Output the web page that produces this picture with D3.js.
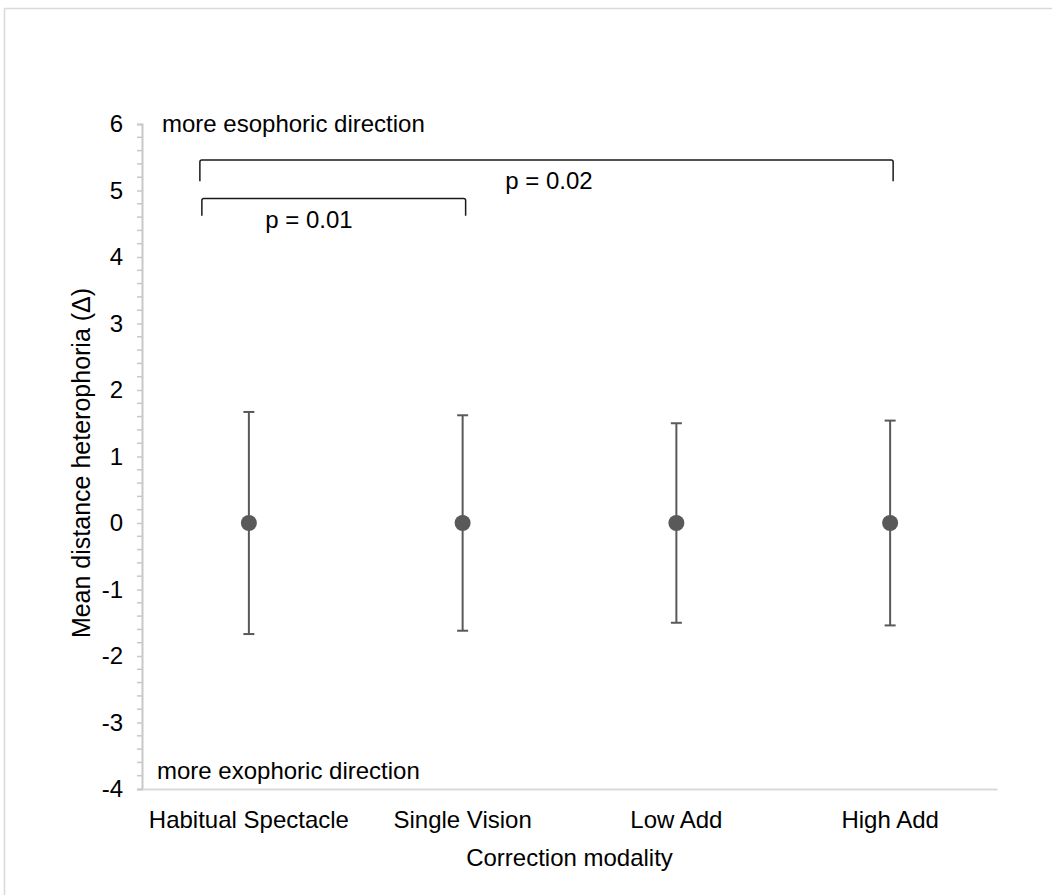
<!DOCTYPE html>
<html>
<head>
<meta charset="utf-8">
<script src="https://cdn.jsdelivr.net/npm/d3@7/dist/d3.min.js"></script>
<style>
  html, body { margin: 0; padding: 0; background: #fff; }
  svg { display: block; }
  text { font-family: "Liberation Sans", Arial, sans-serif; fill: #000; }
</style>
</head>
<body>
<svg id="chart" width="1052" height="895"></svg>
<script>
// ---- data ----
const categories = ["Habitual Spectacle", "Single Vision", "Low Add", "High Add"];
const means = [0, 0, 0, 0];
const sds = [1.67, 1.62, 1.50, 1.54];
const yTicks = [-4, -3, -2, -1, 0, 1, 2, 3, 4, 5, 6];
const bracketFrom = [0, 0];
const bracketTo = [3, 1];
const bracketTop = [5.46, 4.88];
const bracketLegBottom = [5.14, 4.62];
const bracketLabels = ["p = 0.02", "p = 0.01"];
const xTitle = "Correction modality";
const yTitle = "Mean distance heterophoria (\u0394)";
const topNote = "more esophoric direction";
const bottomNote = "more exophoric direction";

// ---- layout ----
const W = 1052, H = 895;
const mLeft = 142, mRight = 997, mTop = 124, mBottom = 789;
const FS = 24;

const svg = d3.select("#chart");

// outer border
svg.append("rect")
  .attr("x", 4.5).attr("y", 8.5).attr("width", W + 10).attr("height", H + 10)
  .attr("fill", "none").attr("stroke", "#d9d9d9").attr("stroke-width", 1.5);

const x = d3.scaleBand().domain(categories).range([mLeft, mRight]);
const y = d3.scaleLinear().domain([-4, 6]).range([mBottom, mTop]);
const cx = c => x(c) + x.bandwidth() / 2;

// y axis
const yAxis = d3.axisLeft(y).tickValues(yTicks).tickSize(5).tickPadding(14).tickFormat(d => String(d));
const gy = svg.append("g").attr("transform", `translate(${mLeft},0)`).call(yAxis);
gy.select(".domain").attr("stroke", "#c8c8c8").attr("stroke-width", 2);
gy.selectAll(".tick line").attr("stroke", "#c8c8c8").attr("stroke-width", 1.5);
gy.selectAll(".tick text").style("font-size", FS + "px").attr("fill", "#000")
  .style("font-family", "'Liberation Sans', Arial, sans-serif");

// minor ticks
const minor = d3.range(-4, 6.0001, 0.2).filter(v => Math.abs(v - Math.round(v)) > 1e-6);
svg.append("g").selectAll("line").data(minor).join("line")
  .attr("x1", mLeft - 5).attr("x2", mLeft)
  .attr("y1", d => y(d)).attr("y2", d => y(d))
  .attr("stroke", "#c8c8c8").attr("stroke-width", 1.5);

// x axis
const xAxis = d3.axisBottom(x).tickSize(0).tickPadding(22);
const gx = svg.append("g").attr("transform", `translate(0,${mBottom})`).call(xAxis);
gx.select(".domain").attr("stroke", "#d9d9d9").attr("stroke-width", 2);
gx.selectAll(".tick text").style("font-size", FS + "px").attr("fill", "#000")
  .style("font-family", "'Liberation Sans', Arial, sans-serif");

// axis titles
svg.append("text").attr("x", (mLeft + mRight) / 2).attr("y", 866)
  .attr("text-anchor", "middle").style("font-size", FS + "px").text(xTitle);
svg.append("text").attr("transform", "translate(90,463) rotate(-90)")
  .attr("text-anchor", "middle").style("font-size", "25px").text(yTitle);

// notes
svg.append("text").attr("x", 162).attr("y", y(6) + 8).style("font-size", FS + "px").text(topNote);
svg.append("text").attr("x", 157).attr("y", y(-3.73) + 8).style("font-size", FS + "px").text(bottomNote);

// error bars
const data = categories.map((c, i) => ({ c, m: means[i], sd: sds[i] }));
const eb = svg.append("g");
eb.selectAll("line.v").data(data).join("line").attr("class", "v")
  .attr("x1", d => cx(d.c)).attr("x2", d => cx(d.c))
  .attr("y1", d => y(d.m - d.sd)).attr("y2", d => y(d.m + d.sd))
  .attr("stroke", "#595959").attr("stroke-width", 2);
["lo", "hi"].forEach(k => {
  eb.selectAll("line." + k).data(data).join("line").attr("class", k)
    .attr("x1", d => cx(d.c) - 5.5).attr("x2", d => cx(d.c) + 5.5)
    .attr("y1", d => y(k === "lo" ? d.m - d.sd : d.m + d.sd))
    .attr("y2", d => y(k === "lo" ? d.m - d.sd : d.m + d.sd))
    .attr("stroke", "#595959").attr("stroke-width", 2);
});
eb.selectAll("circle").data(data).join("circle")
  .attr("cx", d => cx(d.c)).attr("cy", d => y(d.m)).attr("r", 8)
  .attr("fill", "#595959");

// significance brackets
const brackets = bracketLabels.map((l, i) => ({
  a: categories[bracketFrom[i]], b: categories[bracketTo[i]],
  t: bracketTop[i], lb: bracketLegBottom[i], label: l
}));
const bg = svg.append("g");
bg.selectAll("path").data(brackets).join("path")
  .attr("d", (d, i) => {
    const x1 = cx(d.a) - (i === 0 ? 49 : 47), x2 = cx(d.b) + 3;
    const yt = y(d.t), yb = y(d.lb);
    return `M${x1},${yb} L${x1},${yt + 2} Q${x1},${yt} ${x1 + 2},${yt} L${x2 - 2},${yt} Q${x2},${yt} ${x2},${yt + 2} L${x2},${yb}`;
  })
  .attr("fill", "none").attr("stroke", "#1a1a1a").attr("stroke-width", 1.5);
const labelX = [549, 309];
bg.selectAll("text").data(brackets).join("text")
  .attr("x", (d, i) => labelX[i]).attr("y", (d, i) => (i === 0 ? 189 : 228))
  .attr("text-anchor", "middle").style("font-size", FS + "px").text(d => d.label);
</script>
</body>
</html>
